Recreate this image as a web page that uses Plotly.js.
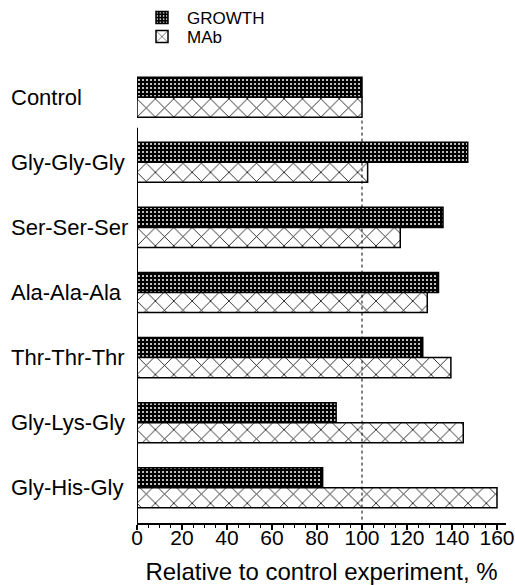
<!DOCTYPE html>
<html>
<head>
<meta charset="utf-8">
<script src="https://cdn.plot.ly/plotly-3.0.1.min.js"></script>
<style>html,body{margin:0;padding:0;background:#fff;}#chart{width:515px;height:585px;}</style>
</head>
<body>
<div id="chart"></div>
<script>
const categories = ["Control", "Gly-Gly-Gly", "Ser-Ser-Ser", "Ala-Ala-Ala", "Thr-Thr-Thr", "Gly-Lys-Gly", "Gly-His-Gly"];
const growth = [100, 147, 136, 134, 127, 88.5, 82.5];
const mab = [100, 102.5, 117, 129, 139.5, 145, 160];
const seriesNames = ["GROWTH", "MAb"];
const xTickVals = [0, 20, 40, 60, 80, 100, 120, 140, 160];
const xTitle = "Relative to control experiment, %";
const referenceLevel = 100;

const FONT = "Liberation Sans, Arial, sans-serif";

const traces = [
  {
    type: "bar", orientation: "h", name: seriesNames[0], legend: "legend",
    y: categories, x: growth,
    marker: {
      color: "#000",
      line: {color: "#000", width: 1.5},
      pattern: {shape: ".", bgcolor: "#000", fgcolor: "#fff", size: 4, solidity: 0.2}
    },
    hoverinfo: "none"
  },
  {
    type: "bar", orientation: "h", name: seriesNames[1], legend: "legend2",
    y: categories, x: mab,
    marker: {
      color: "#fff",
      line: {color: "#000", width: 1.5},
      pattern: {shape: "x", bgcolor: "#fff", fgcolor: "#000", size: 13, solidity: 0.12}
    },
    hoverinfo: "none"
  }
];

const annotations = categories.map(c => ({
  xref: "paper", yref: "y", x: -0.347, y: c, text: c,
  xanchor: "left", yanchor: "middle", showarrow: false,
  font: {family: FONT, size: 22, color: "#000"}
}));

const legendCommon = {
  xanchor: "left", yanchor: "middle",
  font: {family: FONT, size: 17, color: "#000"},
  bgcolor: "rgba(0,0,0,0)", itemwidth: 40, tracegroupgap: 0
};

const layout = {
  width: 515, height: 585,
  margin: {l: 137, r: 9, t: 62, b: 62, autoexpand: false},
  paper_bgcolor: "#fff", plot_bgcolor: "#fff",
  barmode: "group", bargap: 0.385, bargroupgap: 0,
  font: {family: FONT, size: 21, color: "#000"},
  showlegend: true,
  legend: Object.assign({x: 0.0, y: 1 + (62 - 18) / 461}, legendCommon),
  legend2: Object.assign({x: 0.0, y: 1 + (62 - 37) / 461}, legendCommon),
  xaxis: {
    range: [0, 164], tickvals: xTickVals, ticktext: xTickVals.map(String),
    showline: true, linecolor: "#000", linewidth: 2,
    ticks: "outside", ticklen: 5, tickwidth: 1.5, tickcolor: "#000",
    minor: {dtick: 5, ticks: "outside", ticklen: 3, tickwidth: 1, tickcolor: "#000"},
    showgrid: false, zeroline: false,
    ticklabelstandoff: -10,
    tickfont: {family: FONT, size: 21, color: "#000"},
    title: {text: xTitle, font: {family: FONT, size: 24, color: "#000"}, standoff: 24}
  },
  yaxis: {
    type: "category", categoryarray: categories, categoryorder: "array",
    range: [6.54, -0.54],
    showline: false, showgrid: false, zeroline: false, ticks: "",
    showticklabels: false
  },
  shapes: [
    {type: "line", xref: "x", yref: "y", x0: 0, x1: 0, y0: 0.47, y1: 6.54,
     line: {color: "#000", width: 2}},
    {type: "line", xref: "x", yref: "y", x0: referenceLevel, x1: referenceLevel, y0: 0.36, y1: 6.5,
     line: {color: "#000", width: 1, dash: "dot"}, layer: "above"}
  ],
  annotations: annotations
};

Plotly.newPlot("chart", traces, layout, {displayModeBar: false, staticPlot: true});
</script>
</body>
</html>
